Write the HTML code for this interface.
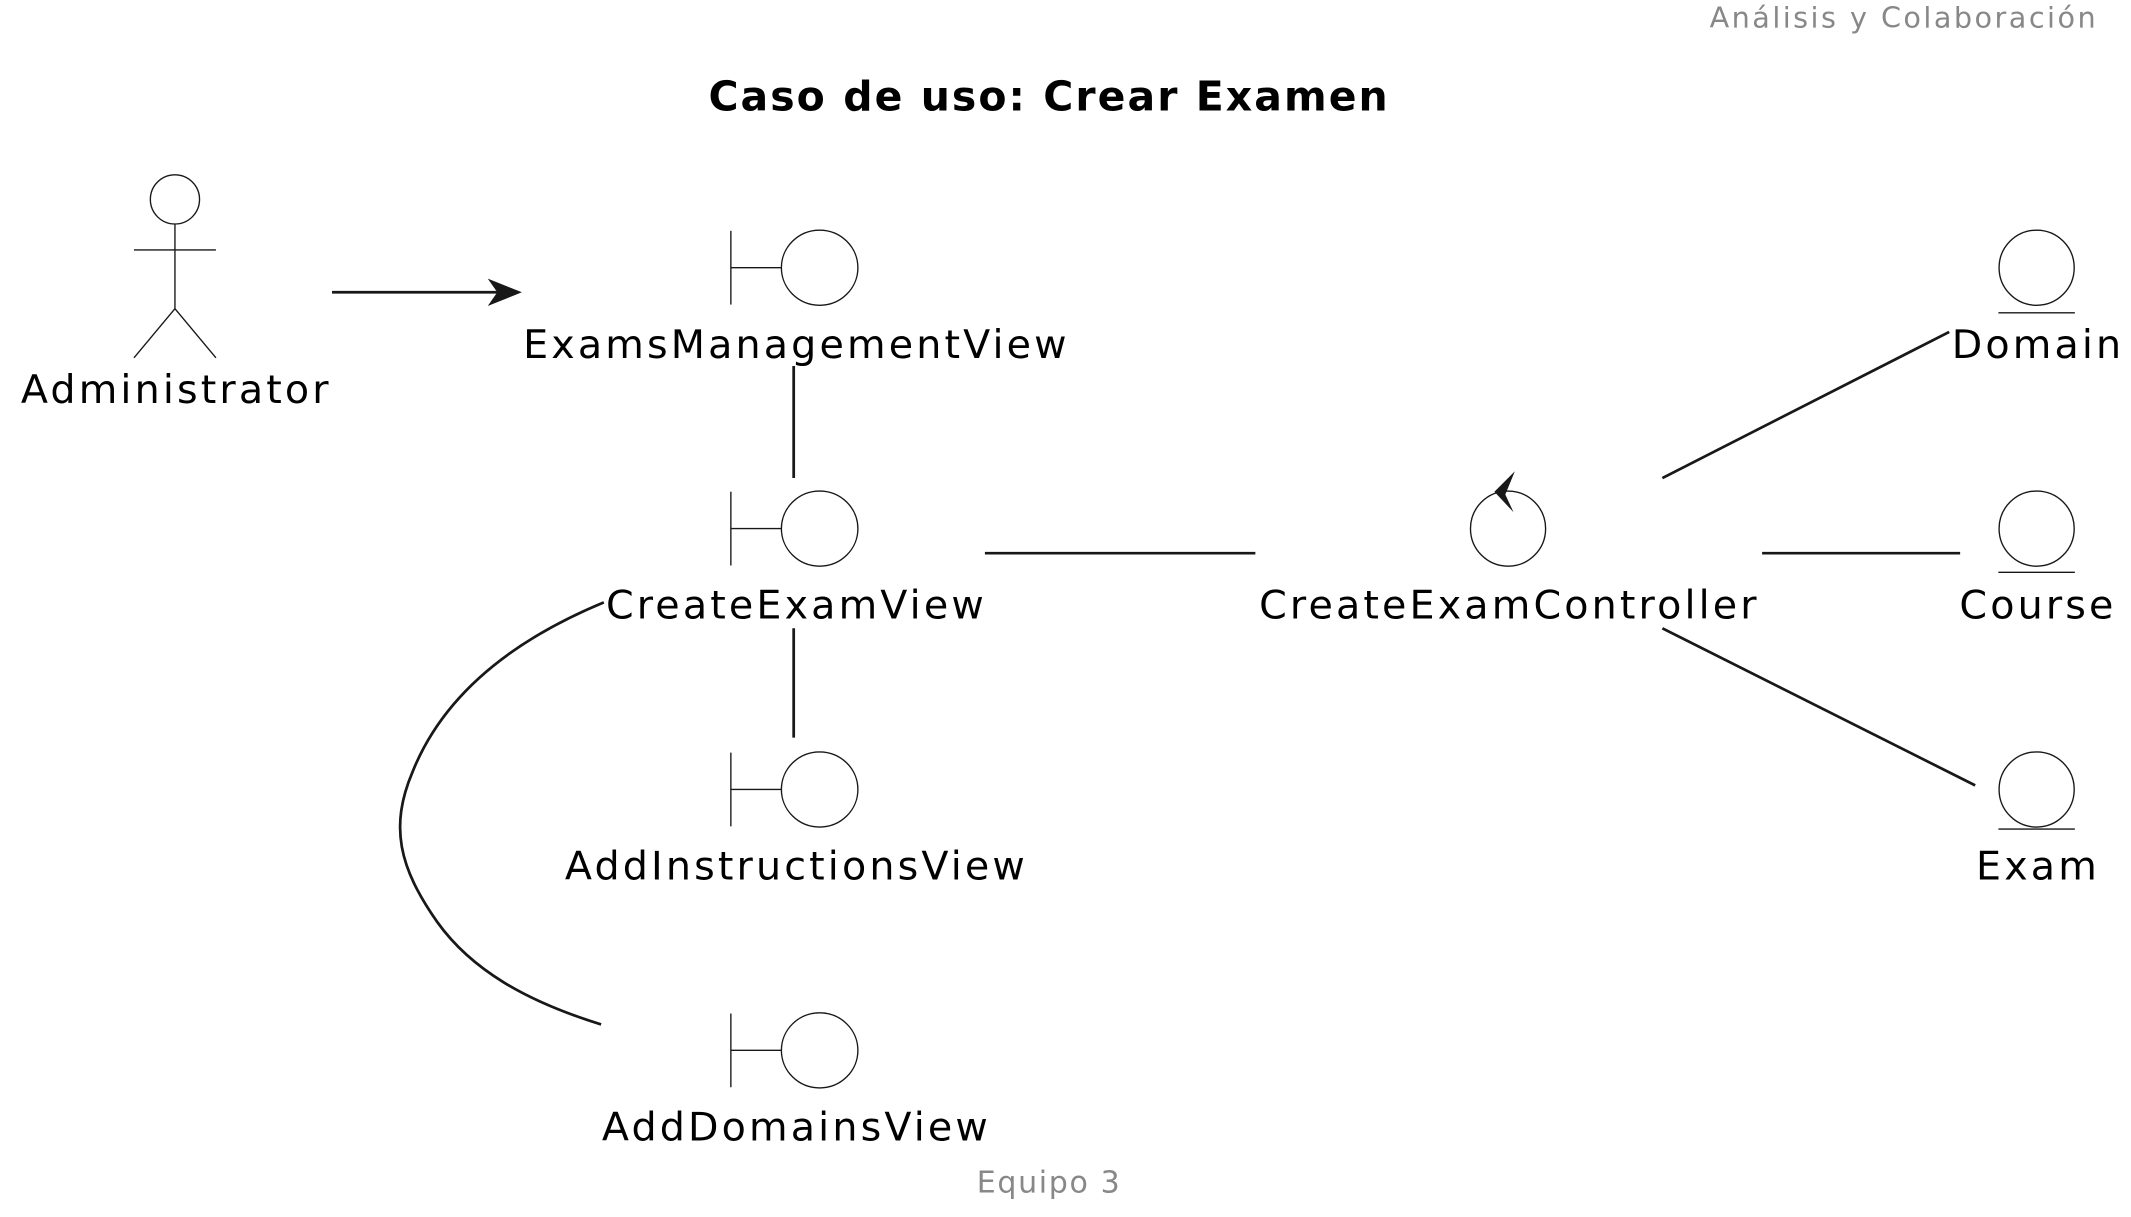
<!DOCTYPE html>
<html><head><meta charset="utf-8"><style>
html,body{margin:0;padding:0;background:#fff;}
svg{display:block;}
text{font-family:"DejaVu Sans","Liberation Sans",sans-serif;}
</style></head><body>
<svg width="2131" height="1217" viewBox="0 0 1560 891" xmlns="http://www.w3.org/2000/svg">
<rect width="1560" height="891" fill="#fff"/>
<text x="1536" y="20" text-anchor="end" font-size="21" letter-spacing="1.8" fill="#888">Análisis y Colaboración</text>
<text x="768" y="81" text-anchor="middle" font-size="30" font-weight="bold" letter-spacing="1.5" fill="#000">Caso de uso: Crear Examen</text>
<text x="768" y="873" text-anchor="middle" font-size="22" letter-spacing="1.2" fill="#888">Equipo 3</text>

<g fill="none" stroke="#181818" stroke-width="1">
<ellipse cx="128" cy="146" rx="18" ry="18"/>
<line x1="128" y1="164" x2="128" y2="226"/>
<line x1="98" y1="183" x2="158" y2="183"/>
<line x1="128" y1="226" x2="98" y2="262"/>
<line x1="128" y1="226" x2="158" y2="262"/>
<g><line x1="535" y1="169" x2="535" y2="223"/><line x1="535" y1="196" x2="572" y2="196"/><ellipse cx="600" cy="196" rx="28" ry="27.5"/></g>
<g><line x1="535" y1="360" x2="535" y2="414"/><line x1="535" y1="387" x2="572" y2="387"/><ellipse cx="600" cy="387" rx="28" ry="27.5"/></g>
<g><line x1="535" y1="551" x2="535" y2="605"/><line x1="535" y1="578" x2="572" y2="578"/><ellipse cx="600" cy="578" rx="28" ry="27.5"/></g>
<g><line x1="535" y1="742" x2="535" y2="796"/><line x1="535" y1="769" x2="572" y2="769"/><ellipse cx="600" cy="769" rx="28" ry="27.5"/></g>
<ellipse cx="1104" cy="387" rx="27.5" ry="27.5"/>
<ellipse cx="1491" cy="196" rx="27.5" ry="27.5"/><line x1="1463" y1="229" x2="1519" y2="229"/>
<ellipse cx="1491" cy="387" rx="27.5" ry="27.5"/><line x1="1463" y1="419" x2="1519" y2="419"/>
<ellipse cx="1491" cy="578" rx="27.5" ry="27.5"/><line x1="1463" y1="607" x2="1519" y2="607"/>
</g>
<polygon points="1094,360 1109,345 1102,362 1108,375" fill="#181818"/>

<g fill="none" stroke="#181818" stroke-width="2">
<line x1="243" y1="214" x2="375" y2="214"/>
<line x1="581" y1="268" x2="581" y2="350"/>
<line x1="581" y1="460" x2="581" y2="540"/>
<line x1="721" y1="405" x2="919" y2="405"/>
<line x1="1290" y1="405" x2="1435" y2="405"/>
<line x1="1217" y1="350" x2="1427" y2="243"/>
<line x1="1217" y1="460" x2="1446" y2="575"/>
<path d="M442,441 C360,475 320,520 302,565 C285,605 292,635 320,675 C345,710 385,733 440,750"/>
</g>
<polygon points="382,214 357,204 364,214 357,224" fill="#181818"/>

<g font-size="29" fill="#000" text-anchor="middle" letter-spacing="2.3">
<text x="129" y="295">Administrator</text>
<text x="583" y="262">ExamsManagementView</text>
<text x="583" y="453">CreateExamView</text>
<text x="583" y="644">AddInstructionsView</text>
<text x="583" y="835">AddDomainsView</text>
<text x="1105" y="453">CreateExamController</text>
<text x="1492" y="262">Domain</text>
<text x="1492" y="453">Course</text>
<text x="1492" y="644">Exam</text>
</g>
</svg>
</body></html>
